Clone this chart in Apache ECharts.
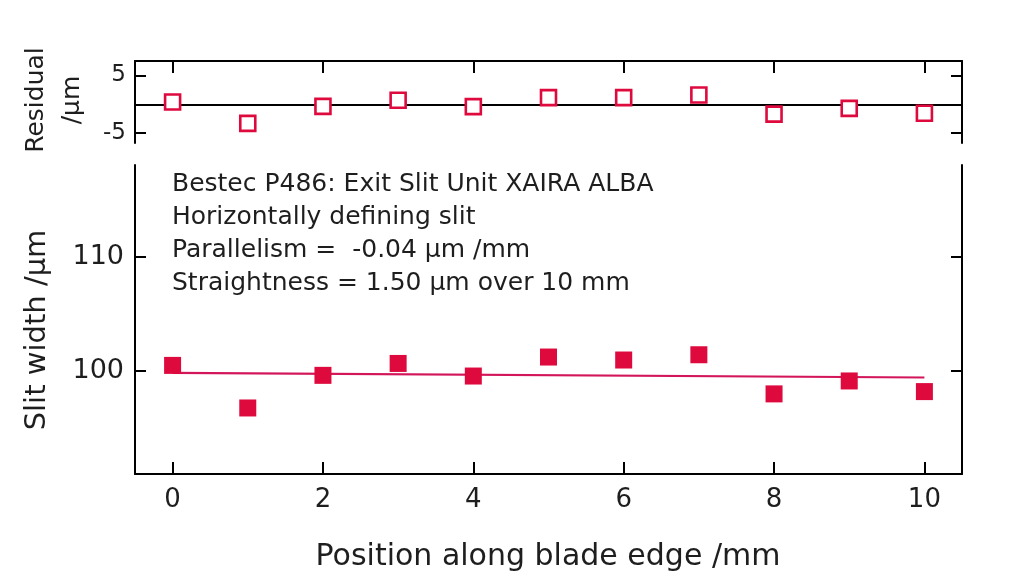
<!DOCTYPE html>
<html>
<head>
<meta charset="utf-8">
<script src="https://cdn.jsdelivr.net/npm/echarts@6/dist/echarts.min.js"></script>
<style>html,body{margin:0;padding:0;background:#fff;}#c{width:1024px;height:588px;}</style>
</head>
<body>
<div id="c"></div>
<script>
// Data
const positions = [0, 1, 2, 3, 4, 5, 6, 7, 8, 9, 10];
const slitWidth = [100.49, 96.77, 99.62, 100.66, 99.56, 101.22, 100.96, 101.42, 98.0, 99.13, 98.2];
const residuals = [0.4, -3.3, -0.35, 0.7, -0.4, 1.15, 1.15, 1.6, -1.7, -0.7, -1.56];
const fitX = [0, 10];
const fitY = [99.83, 99.43];
const xTicks = [0, 2, 4, 6, 8, 10];
const mainYTicks = [100, 110];
const residYTicks = [-5, 5];
const annotation = [
  'Bestec P486: Exit Slit Unit XAIRA ALBA',
  'Horizontally defining slit',
  'Parallelism =  -0.04 \u00b5m /mm',
  'Straightness = 1.50 \u00b5m over 10 mm'
];

const RED = '#de0a3e';
const LINE_RED = '#d3165a';
const INK = '#1e1e1e';
const FONT = 'DejaVu Sans';
const axisLine = {show: true, onZero: false, lineStyle: {color: '#000', width: 2}};
const tickStyle = {color: '#000', width: 2};

const chart = echarts.init(document.getElementById('c'), null, {renderer: 'canvas'});
chart.setOption({
  animation: false,
  backgroundColor: '#fff',
  textStyle: {fontFamily: FONT, color: INK},
  grid: [
    {left: 135, right: 62, top: 61, height: 82},
    {left: 135, right: 62, top: 165, height: 309}
  ],
  xAxis: [
    {gridIndex: 0, type: 'value', position: 'top', min: -0.5, max: 10.5,
     axisLine: axisLine, splitLine: {show: false},
     axisTick: {show: true, inside: true, length: 12, customValues: xTicks, lineStyle: tickStyle},
     axisLabel: {show: false}},
    {gridIndex: 1, type: 'value', position: 'bottom', min: -0.5, max: 10.5,
     axisLine: axisLine, splitLine: {show: false},
     axisTick: {show: true, inside: true, length: 12, customValues: xTicks, lineStyle: tickStyle},
     axisLabel: {show: true, customValues: xTicks, fontSize: 26, color: INK, margin: 13, fontFamily: FONT}}
  ],
  yAxis: [
    {gridIndex: 0, type: 'value', position: 'left', min: -6.7, max: 7.5,
     axisLine: axisLine, splitLine: {show: false},
     axisTick: {show: true, inside: true, length: 11, customValues: residYTicks, lineStyle: tickStyle},
     axisLabel: {show: true, customValues: residYTicks, fontSize: 23, color: INK, margin: 9, fontFamily: FONT}},
    {gridIndex: 0, type: 'value', position: 'right', min: -6.7, max: 7.5,
     axisLine: axisLine, splitLine: {show: false},
     axisTick: {show: true, inside: true, length: 11, customValues: residYTicks, lineStyle: tickStyle},
     axisLabel: {show: false}},
    {gridIndex: 1, type: 'value', position: 'left', min: 91, max: 118,
     axisLine: axisLine, splitLine: {show: false},
     axisTick: {show: true, inside: true, length: 11, customValues: mainYTicks, lineStyle: tickStyle},
     axisLabel: {show: true, customValues: mainYTicks, fontSize: 27, color: INK, margin: 11, fontFamily: FONT}},
    {gridIndex: 1, type: 'value', position: 'right', min: 91, max: 118,
     axisLine: axisLine, splitLine: {show: false},
     axisTick: {show: true, inside: true, length: 11, customValues: mainYTicks, lineStyle: tickStyle},
     axisLabel: {show: false}}
  ],
  series: [
    {type: 'scatter', name: 'Residual', xAxisIndex: 0, yAxisIndex: 0,
     data: positions.map((x, i) => [x, residuals[i]]),
     symbol: 'rect', symbolSize: 15,
     itemStyle: {color: '#ffffff', borderColor: RED, borderWidth: 2.6, opacity: 1},
     markLine: {silent: true, symbol: 'none', label: {show: false},
       lineStyle: {color: '#000', width: 2, type: 'solid'},
       data: [{yAxis: 0}]},
     z: 5},
    {type: 'line', name: 'Fit', xAxisIndex: 1, yAxisIndex: 2,
     data: fitX.map((x, i) => [x, fitY[i]]),
     showSymbol: false, lineStyle: {color: LINE_RED, width: 2.2}, z: 2},
    {type: 'scatter', name: 'Slit width', xAxisIndex: 1, yAxisIndex: 2,
     data: positions.map((x, i) => [x, slitWidth[i]]),
     symbol: 'rect', symbolSize: 17,
     itemStyle: {color: RED, opacity: 1}, z: 5}
  ],
  graphic: [
    {type: 'text', left: 172, top: 168,
     style: {text: annotation.join('\n'), font: '25px "' + FONT + '"', fill: INK, lineHeight: 33}},
    {type: 'text', x: 37, y: 330, rotation: Math.PI / 2,
     style: {text: 'Slit width /\u00b5m', font: '29px "' + FONT + '"', fill: INK, align: 'center', verticalAlign: 'middle'}},
    {type: 'text', x: 54, y: 100, rotation: Math.PI / 2,
     style: {text: 'Residual\n/\u00b5m', font: '25px "' + FONT + '"', fill: INK, align: 'center', verticalAlign: 'middle', lineHeight: 36}},
    {type: 'text', x: 548, y: 557,
     style: {text: 'Position along blade edge /mm', font: '30px "' + FONT + '"', fill: INK, align: 'center', verticalAlign: 'middle'}}
  ]
});
</script>
</body>
</html>
